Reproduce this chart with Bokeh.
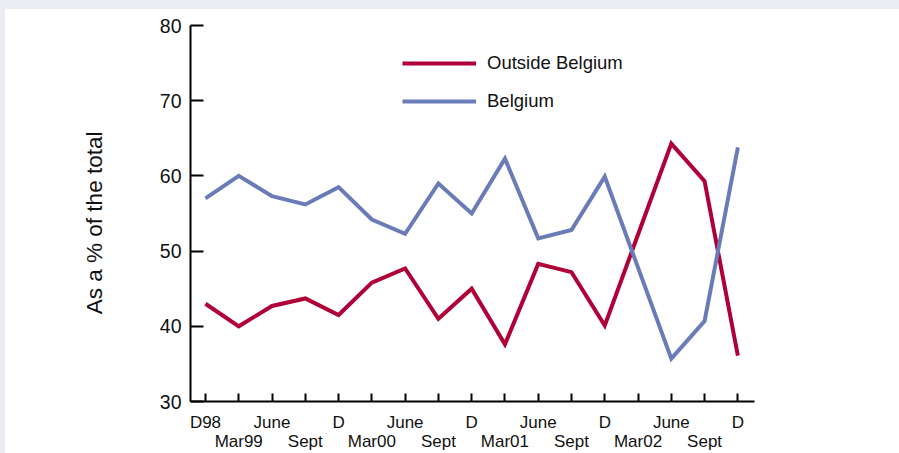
from bokeh.plotting import figure
from bokeh.layouts import column, row
from bokeh.models import Range1d, FixedTicker, LinearAxis, Legend, LegendItem, Spacer
from bokeh.embed import file_html
from bokeh.resources import INLINE

quarters = ["D98", "Mar99", "June", "Sept", "D", "Mar00", "June", "Sept", "D",
            "Mar01", "June", "Sept", "D", "Mar02", "June", "Sept", "D"]
outside_belgium = [43.0, 40.0, 42.7, 43.7, 41.5, 45.8, 47.7, 41.0, 45.0,
                   37.6, 48.3, 47.2, 40.1, 52.2, 64.3, 59.3, 36.1]
belgium = [57.0, 60.0, 57.3, 56.2, 58.5, 54.2, 52.3, 59.0, 55.0,
           62.3, 51.7, 52.8, 59.9, 47.8, 35.7, 40.7, 63.8]
y_ticks = [30, 40, 50, 60, 70, 80]
y_title = "As a % of the total"

RED = "#AF0037"
BLUE = "#6A7CB8"
FONT = "Liberation Sans"
TXT = "#111111"
BAND = "#ECECF5"

xs = list(range(len(quarters)))

fig = figure(width=894, height=444, output_backend="svg", toolbar_location=None,
             x_range=Range1d(-0.45, 16.5), y_range=Range1d(30, 80),
             min_border_left=185, min_border_right=145, min_border_top=16,
             min_border_bottom=52, x_axis_type=None)
fig.outline_line_color = None
fig.xgrid.visible = False
fig.ygrid.visible = False
fig.background_fill_color = "white"
fig.border_fill_color = "white"

r_out = fig.line(xs, outside_belgium, line_color=RED, line_width=4, line_join="miter")
r_bel = fig.line(xs, belgium, line_color=BLUE, line_width=4, line_join="miter")

# y axis
ya = fig.yaxis[0]
ya.ticker = FixedTicker(ticks=y_ticks)
ya.axis_label = y_title + "\u00a0\u00a0\u00a0"
ya.axis_label_text_font = FONT
ya.axis_label_text_font_size = "22.5px"
ya.axis_label_text_font_style = "normal"
ya.axis_label_text_color = TXT
ya.axis_label_standoff = 50
ya.major_label_text_font = FONT
ya.major_label_text_font_size = "19.5px"
ya.major_label_text_color = TXT
ya.major_label_standoff = 9
ya.major_tick_in = 13
ya.major_tick_out = 0
ya.minor_tick_line_color = None
ya.axis_line_width = 2
ya.major_tick_line_width = 2
ya.axis_line_color = "black"
ya.major_tick_line_color = "black"

# x axis: first row (even labels) with ticks
top_labels = {i: (q if i % 2 == 0 else "") for i, q in enumerate(quarters)}
xa1 = LinearAxis(ticker=FixedTicker(ticks=xs), major_label_overrides=top_labels)
xa1.major_label_text_font = FONT
xa1.major_label_text_font_size = "17px"
xa1.major_label_text_color = TXT
xa1.major_label_standoff = 11
xa1.major_tick_in = 8
xa1.major_tick_out = 0
xa1.minor_tick_line_color = None
xa1.axis_line_width = 2
xa1.major_tick_line_width = 2
xa1.axis_line_color = "black"
xa1.major_tick_line_color = "black"
fig.add_layout(xa1, "below")

# x axis: second row (odd labels)
odd = [i for i in xs if i % 2 == 1]
bottom_labels = {i: quarters[i] for i in odd}
xa2 = LinearAxis(ticker=FixedTicker(ticks=odd), major_label_overrides=bottom_labels)
xa2.major_label_text_font = FONT
xa2.major_label_text_font_size = "17px"
xa2.major_label_text_color = TXT
xa2.major_label_standoff = -3
xa2.major_tick_in = 0
xa2.major_tick_out = 0
xa2.minor_tick_line_color = None
xa2.axis_line_color = None
xa2.major_tick_line_color = None
fig.add_layout(xa2, "below")

legend = Legend(items=[LegendItem(label="Outside Belgium", renderers=[r_out]),
                       LegendItem(label="Belgium", renderers=[r_bel])],
                location=(212, 289), orientation="vertical")
legend.border_line_color = None
legend.background_fill_alpha = 0
legend.padding = 0
legend.margin = 0
legend.spacing = 16
legend.glyph_width = 74
legend.glyph_height = 20
legend.label_height = 20
legend.label_standoff = 11
legend.label_text_font = FONT
legend.label_text_font_size = "18.5px"
legend.label_text_color = TXT
fig.add_layout(legend, "center")

top_band = Spacer(width=899, height=9, styles={"background-color": BAND})
left_band = Spacer(width=5, height=444, styles={"background-color": BAND})
p = column(top_band, row(left_band, fig, spacing=0), spacing=0)

open("out.html", "w").write(file_html(p, INLINE))
